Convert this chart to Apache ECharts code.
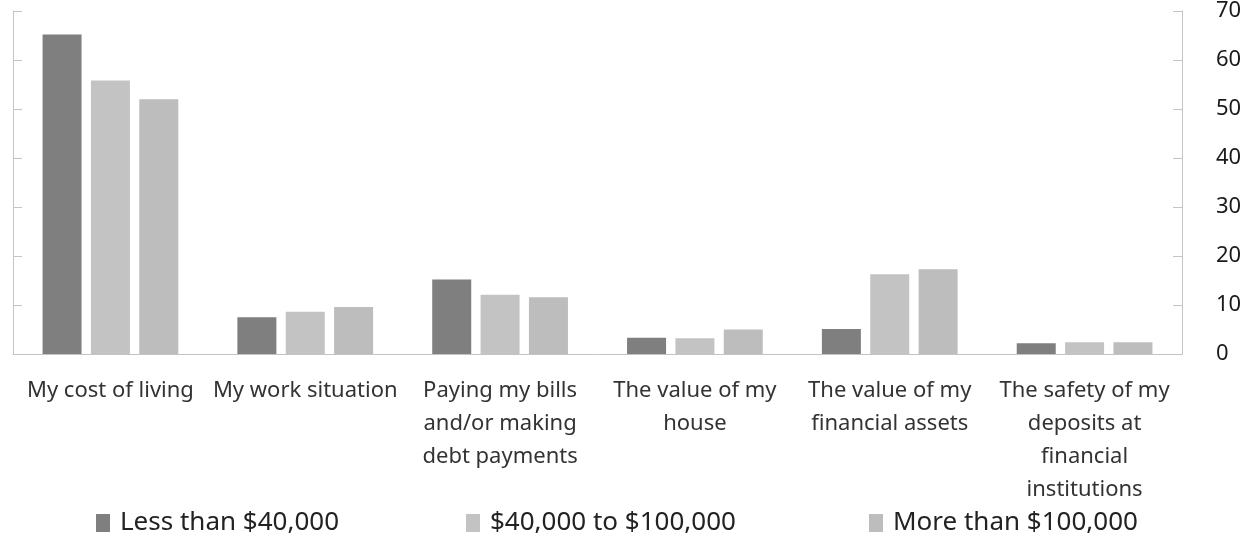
<!DOCTYPE html>
<html>
<head>
<meta charset="utf-8">
<script src="https://cdn.jsdelivr.net/npm/echarts@6/dist/echarts.min.js"></script>
<style>
  html, body { margin: 0; padding: 0; background: #fff; }
  #chart { width: 1246px; height: 543px; }
</style>
</head>
<body>
<div id="chart"></div>
<script>
// Survey responses by household income (per cent)
const categories = [
  'My cost of living',
  'My work situation',
  'Paying my bills\nand/or making\ndebt payments',
  'The value of my\nhouse',
  'The value of my\nfinancial assets',
  'The safety of my\ndeposits at\nfinancial\ninstitutions'
];
const seriesNames = ['Less than $40,000', '$40,000 to $100,000', 'More than $100,000'];
const lowIncome = [65.2, 7.5, 15.2, 3.3, 5.1, 2.2];
const midIncome = [55.8, 8.6, 12.1, 3.2, 16.3, 2.4];
const highIncome = [52, 9.6, 11.6, 5.0, 17.3, 2.4];
const yTicks = { min: 0, max: 70, interval: 10 };

const FONT = '"Noto Sans", sans-serif';
const colors = ['#7f7f7f', '#c3c3c3', '#bdbdbd'];
const axisGrey = '#c4c4c4';

const chart = echarts.init(document.getElementById('chart'), null, { renderer: 'canvas' });

function legendFor(i, left) {
  return {
    left: left, top: 510, padding: 0,
    data: [seriesNames[i]],
    icon: 'rect', itemWidth: 14, itemHeight: 18, itemGap: 0,
    textStyle: { fontFamily: FONT, fontSize: 26, color: '#222', padding: [0, 0, 0, 5] }
  };
}

const barStyle = { barWidth: 39, barGap: '24%', barCategoryGap: '30%' };

chart.setOption({
  animation: false,
  color: colors,
  grid: { left: 13, right: 64, top: 10, bottom: 189 },
  legend: [legendFor(0, 96), legendFor(1, 466), legendFor(2, 869)],
  xAxis: {
    type: 'category',
    data: categories,
    axisLine: { lineStyle: { color: axisGrey, width: 1 } },
    axisTick: { inside: true, length: 9, lineStyle: { color: axisGrey } },
    axisLabel: {
      interval: 0, margin: 20, fontFamily: FONT, fontSize: 22,
      lineHeight: 33, color: '#333', align: 'center'
    }
  },
  yAxis: [
    {
      type: 'value', position: 'right',
      min: yTicks.min, max: yTicks.max, interval: yTicks.interval,
      splitLine: { show: false },
      axisLine: { show: true, lineStyle: { color: axisGrey } },
      axisTick: { show: true, inside: true, length: 9, lineStyle: { color: axisGrey } },
      axisLabel: { margin: 34, fontFamily: FONT, fontSize: 22, color: '#1a1a1a', align: 'left' }
    },
    {
      type: 'value', position: 'left',
      min: yTicks.min, max: yTicks.max, interval: yTicks.interval,
      splitLine: { show: false },
      axisLine: { show: true, lineStyle: { color: axisGrey } },
      axisTick: { show: true, inside: true, length: 9, lineStyle: { color: axisGrey } },
      axisLabel: { show: false }
    }
  ],
  series: [
    Object.assign({ type: 'bar', name: seriesNames[0], data: lowIncome }, barStyle),
    Object.assign({ type: 'bar', name: seriesNames[1], data: midIncome }, barStyle),
    Object.assign({ type: 'bar', name: seriesNames[2], data: highIncome }, barStyle)
  ]
});
</script>
</body>
</html>
